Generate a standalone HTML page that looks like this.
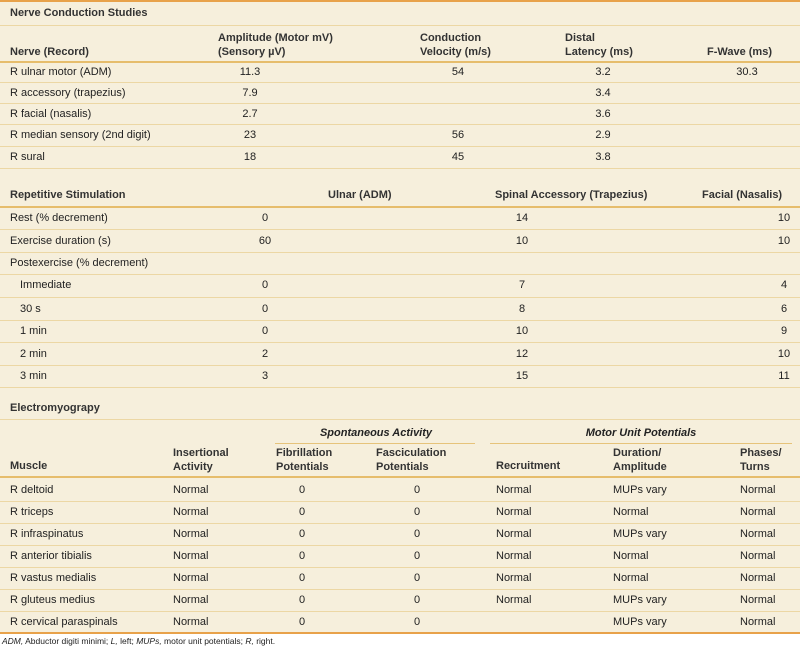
<!DOCTYPE html>
<html><head><meta charset="utf-8"><style>
body{margin:0;width:800px;height:648px;background:#f6efdc;position:relative;overflow:hidden;font-family:"Liberation Sans",sans-serif;font-size:11px;color:#222}
.t{position:absolute;white-space:nowrap;line-height:14px}
.b{font-weight:bold;color:#333}
.i{font-style:italic;font-weight:bold}
.l{position:absolute;left:0;width:800px;height:1px;background:#ecd7a4}
.k{position:absolute;left:0;width:800px;height:2px;background:#e6bd6c}
.c{transform:translateX(-50%)}
</style></head><body>
<div class="k" style="top:0;height:2px;background:#e8a24a"></div>
<div class="t b" style="left:10px;top:6px">Nerve Conduction Studies</div>
<div class="l" style="top:25px"></div>
<div class="t b" style="left:10px;top:45px">Nerve (Record)</div>
<div class="t b" style="left:218px;top:31px">Amplitude (Motor mV)<br>(Sensory µV)</div>
<div class="t b" style="left:420px;top:31px">Conduction<br>Velocity (m/s)</div>
<div class="t b" style="left:565px;top:31px">Distal<br>Latency (ms)</div>
<div class="t b" style="left:707px;top:45px">F-Wave (ms)</div>
<div class="k" style="top:61px"></div>
<div class="t" style="left:10px;top:65px">R ulnar motor (ADM)</div><div class="t c" style="left:250px;top:65px">11.3</div><div class="t c" style="left:458px;top:65px">54</div><div class="t c" style="left:603px;top:65px">3.2</div><div class="t c" style="left:747px;top:65px">30.3</div>
<div class="l" style="top:82px"></div>
<div class="t" style="left:10px;top:86px">R accessory (trapezius)</div><div class="t c" style="left:250px;top:86px">7.9</div><div class="t c" style="left:603px;top:86px">3.4</div>
<div class="l" style="top:103px"></div>
<div class="t" style="left:10px;top:107px">R facial (nasalis)</div><div class="t c" style="left:250px;top:107px">2.7</div><div class="t c" style="left:603px;top:107px">3.6</div>
<div class="l" style="top:124px"></div>
<div class="t" style="left:10px;top:128px">R median sensory (2nd digit)</div><div class="t c" style="left:250px;top:128px">23</div><div class="t c" style="left:458px;top:128px">56</div><div class="t c" style="left:603px;top:128px">2.9</div>
<div class="l" style="top:146px"></div>
<div class="t" style="left:10px;top:150px">R sural</div><div class="t c" style="left:250px;top:150px">18</div><div class="t c" style="left:458px;top:150px">45</div><div class="t c" style="left:603px;top:150px">3.8</div>
<div class="l" style="top:168px"></div>

<div class="t b" style="left:10px;top:188px">Repetitive Stimulation</div>
<div class="t b" style="left:328px;top:188px">Ulnar (ADM)</div>
<div class="t b" style="left:495px;top:188px">Spinal Accessory (Trapezius)</div>
<div class="t b" style="left:702px;top:188px">Facial (Nasalis)</div>
<div class="k" style="top:206px"></div>
<div class="t" style="left:10px;top:211px">Rest (% decrement)</div><div class="t c" style="left:265px;top:211px">0</div><div class="t c" style="left:522px;top:211px">14</div><div class="t c" style="left:784px;top:211px">10</div>
<div class="l" style="top:229px"></div>
<div class="t" style="left:10px;top:234px">Exercise duration (s)</div><div class="t c" style="left:265px;top:234px">60</div><div class="t c" style="left:522px;top:234px">10</div><div class="t c" style="left:784px;top:234px">10</div>
<div class="l" style="top:252px"></div>
<div class="t" style="left:10px;top:256px">Postexercise (% decrement)</div>
<div class="l" style="top:274px"></div>
<div class="t" style="left:20px;top:278px">Immediate</div><div class="t c" style="left:265px;top:278px">0</div><div class="t c" style="left:522px;top:278px">7</div><div class="t c" style="left:784px;top:278px">4</div>
<div class="l" style="top:297px"></div>
<div class="t" style="left:20px;top:302px">30 s</div><div class="t c" style="left:265px;top:302px">0</div><div class="t c" style="left:522px;top:302px">8</div><div class="t c" style="left:784px;top:302px">6</div>
<div class="l" style="top:320px"></div>
<div class="t" style="left:20px;top:324px">1 min</div><div class="t c" style="left:265px;top:324px">0</div><div class="t c" style="left:522px;top:324px">10</div><div class="t c" style="left:784px;top:324px">9</div>
<div class="l" style="top:342px"></div>
<div class="t" style="left:20px;top:347px">2 min</div><div class="t c" style="left:265px;top:347px">2</div><div class="t c" style="left:522px;top:347px">12</div><div class="t c" style="left:784px;top:347px">10</div>
<div class="l" style="top:365px"></div>
<div class="t" style="left:20px;top:369px">3 min</div><div class="t c" style="left:265px;top:369px">3</div><div class="t c" style="left:522px;top:369px">15</div><div class="t c" style="left:784px;top:369px">11</div>
<div class="l" style="top:387px"></div>

<div class="t b" style="left:10px;top:401px">Electromyograpy</div>
<div class="l" style="top:419px"></div>
<div class="t i c" style="left:376px;top:426px">Spontaneous Activity</div>
<div class="t i c" style="left:641px;top:426px">Motor Unit Potentials</div>
<div class="l" style="top:443px;left:275px;width:200px;background:#e6c37a"></div>
<div class="l" style="top:443px;left:490px;width:302px;background:#e6c37a"></div>
<div class="t b" style="left:10px;top:459px">Muscle</div>
<div class="t b" style="left:173px;top:446px">Insertional<br>Activity</div>
<div class="t b" style="left:276px;top:446px">Fibrillation<br>Potentials</div>
<div class="t b" style="left:376px;top:446px">Fasciculation<br>Potentials</div>
<div class="t b" style="left:496px;top:459px">Recruitment</div>
<div class="t b" style="left:613px;top:446px">Duration/<br>Amplitude</div>
<div class="t b" style="left:740px;top:446px">Phases/<br>Turns</div>
<div class="k" style="top:476px"></div>

<div class="t" style="left:10px;top:483px">R deltoid</div><div class="t" style="left:173px;top:483px">Normal</div><div class="t c" style="left:302px;top:483px">0</div><div class="t c" style="left:417px;top:483px">0</div><div class="t" style="left:496px;top:483px">Normal</div><div class="t" style="left:613px;top:483px">MUPs vary</div><div class="t" style="left:740px;top:483px">Normal</div>
<div class="l" style="top:501px"></div>
<div class="t" style="left:10px;top:505px">R triceps</div><div class="t" style="left:173px;top:505px">Normal</div><div class="t c" style="left:302px;top:505px">0</div><div class="t c" style="left:417px;top:505px">0</div><div class="t" style="left:496px;top:505px">Normal</div><div class="t" style="left:613px;top:505px">Normal</div><div class="t" style="left:740px;top:505px">Normal</div>
<div class="l" style="top:523px"></div>
<div class="t" style="left:10px;top:527px">R infraspinatus</div><div class="t" style="left:173px;top:527px">Normal</div><div class="t c" style="left:302px;top:527px">0</div><div class="t c" style="left:417px;top:527px">0</div><div class="t" style="left:496px;top:527px">Normal</div><div class="t" style="left:613px;top:527px">MUPs vary</div><div class="t" style="left:740px;top:527px">Normal</div>
<div class="l" style="top:545px"></div>
<div class="t" style="left:10px;top:549px">R anterior tibialis</div><div class="t" style="left:173px;top:549px">Normal</div><div class="t c" style="left:302px;top:549px">0</div><div class="t c" style="left:417px;top:549px">0</div><div class="t" style="left:496px;top:549px">Normal</div><div class="t" style="left:613px;top:549px">Normal</div><div class="t" style="left:740px;top:549px">Normal</div>
<div class="l" style="top:567px"></div>
<div class="t" style="left:10px;top:571px">R vastus medialis</div><div class="t" style="left:173px;top:571px">Normal</div><div class="t c" style="left:302px;top:571px">0</div><div class="t c" style="left:417px;top:571px">0</div><div class="t" style="left:496px;top:571px">Normal</div><div class="t" style="left:613px;top:571px">Normal</div><div class="t" style="left:740px;top:571px">Normal</div>
<div class="l" style="top:589px"></div>
<div class="t" style="left:10px;top:593px">R gluteus medius</div><div class="t" style="left:173px;top:593px">Normal</div><div class="t c" style="left:302px;top:593px">0</div><div class="t c" style="left:417px;top:593px">0</div><div class="t" style="left:496px;top:593px">Normal</div><div class="t" style="left:613px;top:593px">MUPs vary</div><div class="t" style="left:740px;top:593px">Normal</div>
<div class="l" style="top:611px"></div>
<div class="t" style="left:10px;top:615px">R cervical paraspinals</div><div class="t" style="left:173px;top:615px">Normal</div><div class="t c" style="left:302px;top:615px">0</div><div class="t c" style="left:417px;top:615px">0</div><div class="t" style="left:613px;top:615px">MUPs vary</div><div class="t" style="left:740px;top:615px">Normal</div>
<div class="k" style="top:632px;background:#e8a24a"></div>
<div style="position:absolute;left:0;top:634px;width:800px;height:14px;background:#fff"></div>
<div class="t" style="left:2px;top:635px;font-size:8.5px;line-height:12px"><i>ADM,</i> Abductor digiti minimi; <i>L,</i> left; <i>MUPs,</i> motor unit potentials; <i>R,</i> right.</div>
</body></html>
